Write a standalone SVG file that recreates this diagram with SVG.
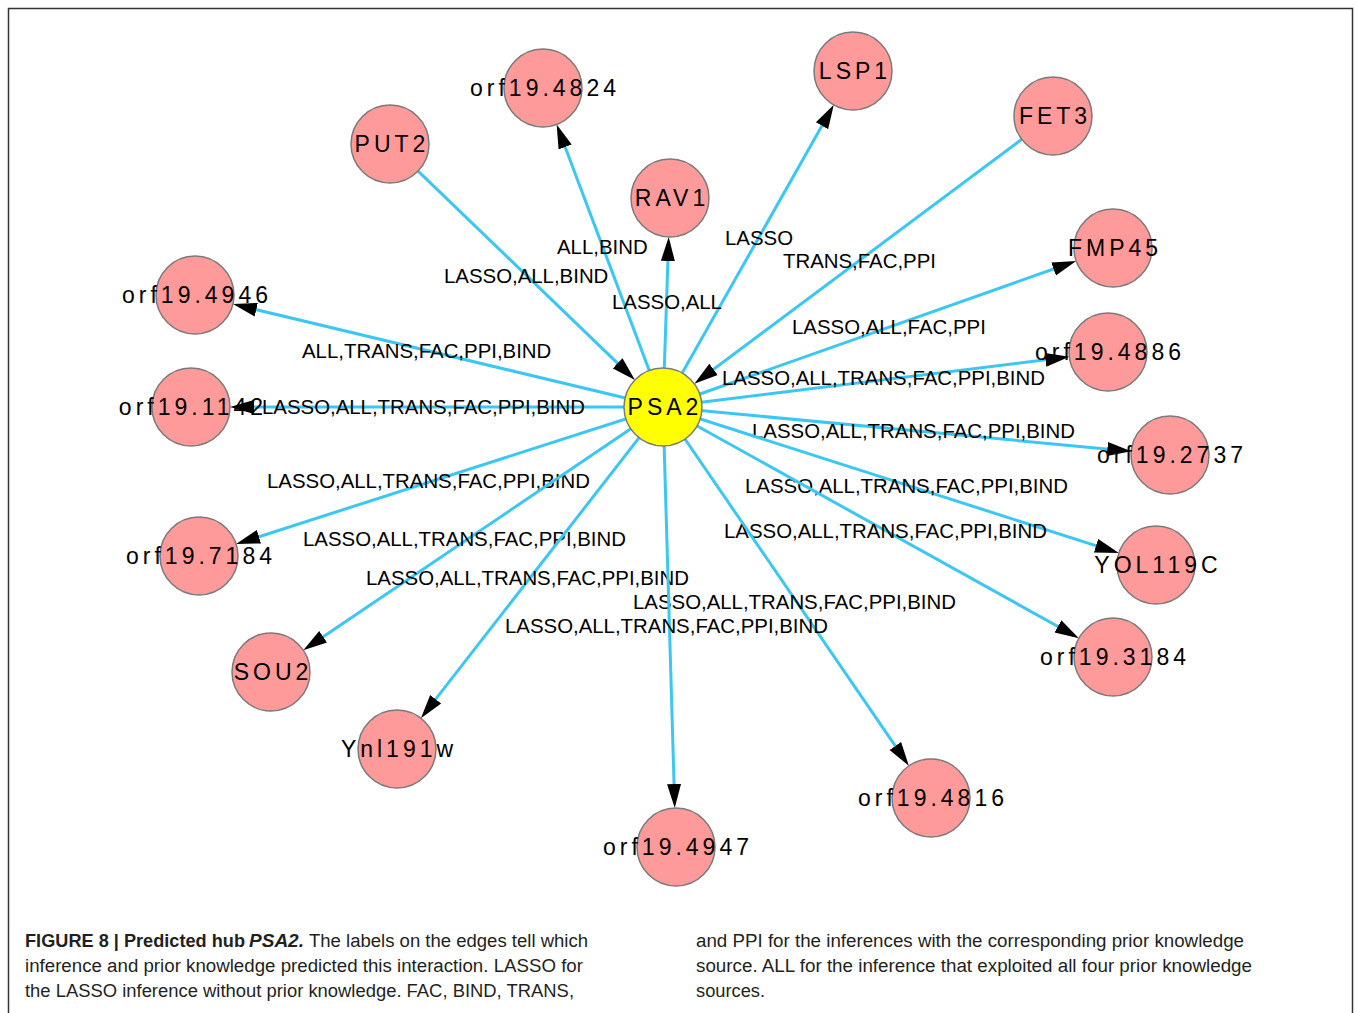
<svg xmlns="http://www.w3.org/2000/svg" width="1357" height="1013" viewBox="0 0 1357 1013">
<defs>
<style>
.edge{stroke:#3CC6F2;stroke-width:3;fill:none;marker-end:url(#arr)}
.el{font-family:"Liberation Sans",Arial,sans-serif;font-size:20.4px;fill:#000}
.node circle{fill:#FF9A9A;stroke:#7a7a7a;stroke-width:1.5}
.node text{font-family:"Liberation Sans",Arial,sans-serif;font-size:23px;letter-spacing:4px;text-anchor:middle;fill:#000}
#n-PSA2 circle{fill:#FFFF00}
.cap{font-family:"Liberation Sans",Arial,sans-serif;font-size:18px;fill:#231f20}
.b{font-weight:bold}
</style>
<marker id="arr" viewBox="0 -8 24 16" markerWidth="24" markerHeight="16" refX="12" refY="0" orient="auto" markerUnits="userSpaceOnUse">
<path d="M0,-7 L24,0 L0,7 z" fill="#000"/>
</marker>
</defs>
<rect x="0" y="0" width="1357" height="1013" fill="#fff"/>
<rect x="8.5" y="8.5" width="1344" height="1012" fill="none" stroke="#333" stroke-width="1.5"/>

<g id="connectors">
<g id="e-orf19.4824"><line class="edge" x1="663" y1="407" x2="560.9" y2="135.7"/><text class="el" x="557" y="254">ALL,BIND</text></g>
<g id="e-LSP1"><line class="edge" x1="663" y1="407" x2="827.9" y2="115.3"/><text class="el" x="725" y="245">LASSO</text></g>
<g id="e-FET3"><line class="edge" x1="1021.7" y1="139.3" x2="703.9" y2="376.5"/><text class="el" x="783" y="268">TRANS,FAC,PPI</text></g>
<g id="e-PUT2"><line class="edge" x1="418.1" y1="171.1" x2="626.3" y2="371.6"/><text class="el" x="444" y="283">LASSO,ALL,BIND</text></g>
<g id="e-RAV1"><line class="edge" x1="663" y1="407" x2="668.3" y2="249"/><text class="el" x="612" y="309">LASSO,ALL</text></g>
<g id="e-FMP45"><line class="edge" x1="663" y1="407" x2="1064.9" y2="265"/><text class="el" x="792" y="334">LASSO,ALL,FAC,PPI</text></g>
<g id="e-orf19.4946"><line class="edge" x1="663" y1="407" x2="244.6" y2="306.9"/><text class="el" x="302" y="358">ALL,TRANS,FAC,PPI,BIND</text></g>
<g id="e-orf19.4886"><line class="edge" x1="663" y1="407" x2="1057.4" y2="358.3"/><text class="el" x="722" y="385">LASSO,ALL,TRANS,FAC,PPI,BIND</text></g>
<g id="e-orf19.1142"><line class="edge" x1="663" y1="407" x2="242" y2="407"/><text class="el" x="262" y="414">LASSO,ALL,TRANS,FAC,PPI,BIND</text></g>
<g id="e-orf19.2737"><line class="edge" x1="663" y1="407" x2="1119.3" y2="450.2"/><text class="el" x="752" y="438">LASSO,ALL,TRANS,FAC,PPI,BIND</text></g>
<g id="e-orf19.7184"><line class="edge" x1="663" y1="407" x2="247.5" y2="540.4"/><text class="el" x="267" y="488">LASSO,ALL,TRANS,FAC,PPI,BIND</text></g>
<g id="e-YOL119C"><line class="edge" x1="663" y1="407" x2="1107.5" y2="549.4"/><text class="el" x="745" y="493">LASSO,ALL,TRANS,FAC,PPI,BIND</text></g>
<g id="e-orf19.3184"><line class="edge" x1="663" y1="407" x2="1068.4" y2="632.3"/><text class="el" x="724" y="538">LASSO,ALL,TRANS,FAC,PPI,BIND</text></g>
<g id="e-SOU2"><line class="edge" x1="663" y1="407" x2="313.2" y2="643.5"/><text class="el" x="303" y="546">LASSO,ALL,TRANS,FAC,PPI,BIND</text></g>
<g id="e-Ynl191w"><line class="edge" x1="663" y1="407" x2="428.3" y2="708.7"/><text class="el" x="366" y="585">LASSO,ALL,TRANS,FAC,PPI,BIND</text></g>
<g id="e-orf19.4816"><line class="edge" x1="663" y1="407" x2="902.1" y2="755.9"/><text class="el" x="633" y="609">LASSO,ALL,TRANS,FAC,PPI,BIND</text></g>
<g id="e-orf19.4947"><line class="edge" x1="663" y1="407" x2="674.4" y2="796"/><text class="el" x="505" y="633">LASSO,ALL,TRANS,FAC,PPI,BIND</text></g>
</g>

<g id="nodes">
<g id="n-orf19.4824" class="node"><circle cx="543" cy="88" r="39"/><text x="545" y="96">orf19.4824</text></g>
<g id="n-LSP1" class="node"><circle cx="853" cy="71" r="39"/><text x="855" y="79">LSP1</text></g>
<g id="n-FET3" class="node"><circle cx="1053" cy="116" r="39"/><text x="1055" y="124">FET3</text></g>
<g id="n-PUT2" class="node"><circle cx="390" cy="144" r="39"/><text x="392" y="152">PUT2</text></g>
<g id="n-RAV1" class="node"><circle cx="670" cy="198" r="39"/><text x="672" y="206">RAV1</text></g>
<g id="n-FMP45" class="node"><circle cx="1113" cy="248" r="39"/><text x="1115" y="256">FMP45</text></g>
<g id="n-orf19.4946" class="node"><circle cx="195" cy="295" r="39"/><text x="197" y="303">orf19.4946</text></g>
<g id="n-orf19.4886" class="node"><circle cx="1108" cy="352" r="39"/><text x="1110" y="360">orf19.4886</text></g>
<g id="n-orf19.1142" class="node"><circle cx="191" cy="407" r="39"/><text x="193" y="415">orf19.1142</text></g>
<g id="n-orf19.2737" class="node"><circle cx="1170" cy="455" r="39"/><text x="1172" y="463">orf19.2737</text></g>
<g id="n-orf19.7184" class="node"><circle cx="199" cy="556" r="39"/><text x="201" y="564">orf19.7184</text></g>
<g id="n-YOL119C" class="node"><circle cx="1156" cy="565" r="39"/><text x="1158" y="573">YOL119C</text></g>
<g id="n-orf19.3184" class="node"><circle cx="1113" cy="657" r="39"/><text x="1115" y="665">orf19.3184</text></g>
<g id="n-SOU2" class="node"><circle cx="271" cy="672" r="39"/><text x="273" y="680">SOU2</text></g>
<g id="n-Ynl191w" class="node"><circle cx="397" cy="749" r="39"/><text x="399" y="757">Ynl191w</text></g>
<g id="n-orf19.4816" class="node"><circle cx="931" cy="798" r="39"/><text x="933" y="806">orf19.4816</text></g>
<g id="n-orf19.4947" class="node"><circle cx="676" cy="847" r="39"/><text x="678" y="855">orf19.4947</text></g>
<g id="n-PSA2" class="node"><circle cx="663" cy="407" r="39"/><text x="665" y="415">PSA2</text></g>
</g>

<g id="caption">
<text class="cap b" x="25" y="947" textLength="220" lengthAdjust="spacingAndGlyphs">FIGURE 8 | Predicted hub</text>
<text class="cap b" x="249" y="947" font-style="italic" textLength="55" lengthAdjust="spacingAndGlyphs">PSA2.</text>
<text class="cap" x="309" y="947" textLength="279" lengthAdjust="spacingAndGlyphs">The labels on the edges tell which</text>
<text class="cap" x="25" y="972" textLength="558" lengthAdjust="spacingAndGlyphs">inference and prior knowledge predicted this interaction. LASSO for</text>
<text class="cap" x="25" y="997" textLength="549" lengthAdjust="spacingAndGlyphs">the LASSO inference without prior knowledge. FAC, BIND, TRANS,</text>
<text class="cap" x="696" y="947" textLength="548" lengthAdjust="spacingAndGlyphs">and PPI for the inferences with the corresponding prior knowledge</text>
<text class="cap" x="696" y="972" textLength="556" lengthAdjust="spacingAndGlyphs">source. ALL for the inference that exploited all four prior knowledge</text>
<text class="cap" x="696" y="997" textLength="69" lengthAdjust="spacingAndGlyphs">sources.</text>
</g>
</svg>
